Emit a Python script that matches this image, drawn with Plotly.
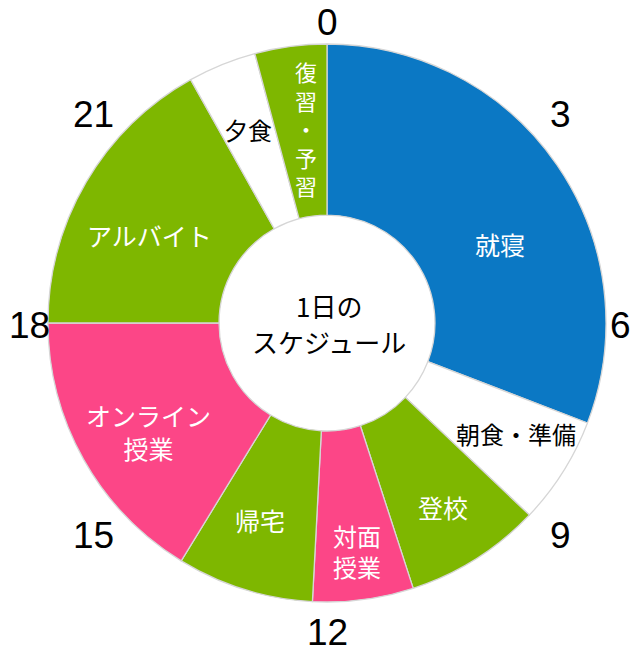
import math
import plotly.graph_objects as go

# ---- data ----
activities = ["就寝", "朝食・準備", "登校", "対面授業", "帰宅",
              "オンライン授業", "アルバイト", "夕食", "復習・予習"]
durations = [7.4, 1.5, 1.9, 1.4, 1.9, 3.9, 4.05, 0.95, 1.0]   # hours
display_labels = ["就寝", "朝食・準備", "登校", "対面<br>授業", "帰宅",
                  "オンライン<br>授業", "アルバイト", "夕食",
                  "復<br>習<br>・<br>予<br>習"]
tick_hours = [0, 3, 6, 9, 12, 15, 18, 21]
center_lines = ["1日の", "スケジュール"]

# ---- styles ----
BLUE, GREEN, PINK, WHITE = "#0b78c4", "#7eb700", "#fc4687", "#ffffff"
slice_colors = [BLUE, WHITE, GREEN, PINK, GREEN, PINK, GREEN, WHITE, GREEN]
text_colors = ["white" if c != WHITE else "black" for c in slice_colors]
label_radius = [190, 219, 217, 230, 208, 209, 198, 209, 196]      # px from centre
label_shift = [10, -2, 0, 0, 1.5, -2, -4, 0, 1.4]                 # deg nudge
label_size = [25, 24, 25, 24, 25, 25, 25, 24, 22]
TICK_SIZE = 37

OFF = 8                      # page body margin around the figure
W, H = 640 - OFF, 650 - OFF
CX, CY, R = 327 - OFF, 323 - OFF, 279
JP = "Noto Sans CJK JP"

fig = go.Figure(go.Pie(
    labels=activities,
    values=durations,
    sort=False,
    direction="clockwise",
    rotation=0,
    hole=0.387,
    marker=dict(colors=slice_colors, line=dict(color="#d6d6d6", width=1.3)),
    textinfo="none",
    hoverinfo="label+value",
    domain=dict(x=[(CX - R) / W, (CX + R) / W],
                y=[1 - (CY + R) / H, 1 - (CY - R) / H]),
))


def to_paper(px, py):
    return px / W, 1 - py / H


annotations = []
total = sum(durations)
start = 0.0
for i, d in enumerate(durations):
    mid = start + d / 2
    theta = math.radians(mid / total * 360 + label_shift[i])
    px = CX + label_radius[i] * math.sin(theta)
    py = CY - label_radius[i] * math.cos(theta)
    x, y = to_paper(px, py)
    annotations.append(dict(
        x=x, y=y, xref="paper", yref="paper", showarrow=False,
        xanchor="center", yanchor="middle", text=display_labels[i],
        font=dict(family=JP, size=label_size[i], color=text_colors[i]),
    ))
    start += d

# hour tick labels around the ring
for h in tick_hours:
    s = str(h)
    half_w = 0.275 * TICK_SIZE * len(s)
    half_h = 0.36 * TICK_SIZE
    deg = h / 24 * 360
    t = math.radians(deg)
    if h % 12 == 0:          # top / bottom
        rr = 294 + half_h
    elif h % 6 == 0:         # left / right
        rr = 291 + half_w
    else:                    # diagonals, tilted slightly toward horizontal
        rr = 314
        q = deg % 180
        t = math.radians(deg + (3 if q < 90 else -3))
    px = CX + rr * math.sin(t)
    py = CY - rr * math.cos(t) + 2
    # keep the label fully inside the visible page area
    px = min(max(px, half_w + 1), W - OFF - half_w - 1)
    py = min(max(py, half_h + 1), H - half_h - 1)
    x, y = to_paper(px, py)
    annotations.append(dict(
        x=x, y=y, xref="paper", yref="paper", showarrow=False,
        xanchor="center", yanchor="middle", text=s,
        font=dict(family="Liberation Sans, Arial", size=TICK_SIZE, color="black"),
    ))

# centre title
for k, line in enumerate(center_lines):
    x, y = to_paper(CX + 2, CY - 18 + k * 37)
    annotations.append(dict(
        x=x, y=y, xref="paper", yref="paper", showarrow=False,
        xanchor="center", yanchor="middle", text=line,
        font=dict(family=JP, size=26, color="black"),
    ))

fig.update_layout(
    width=W, height=H,
    margin=dict(l=0, r=0, t=0, b=0),
    paper_bgcolor="white", plot_bgcolor="white",
    showlegend=False,
    annotations=annotations,
)

fig.write_html("out.html")
